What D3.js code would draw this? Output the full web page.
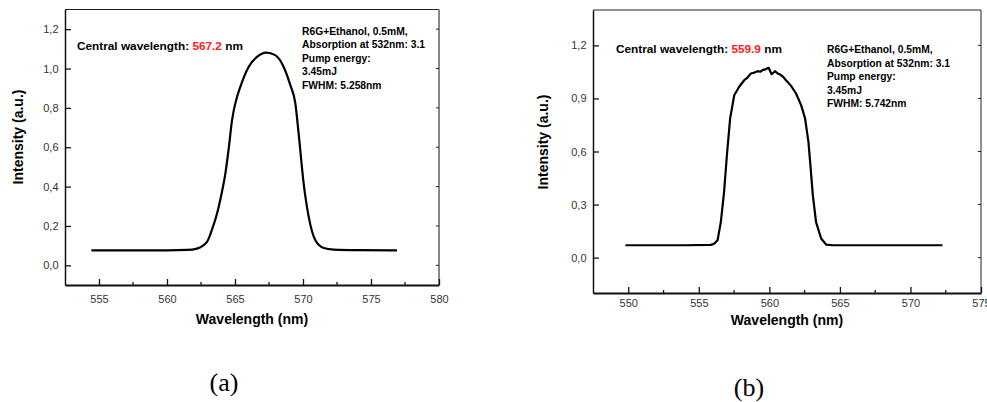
<!DOCTYPE html>
<html>
<head>
<meta charset="utf-8">
<script src="https://cdn.jsdelivr.net/npm/d3@7"></script>
<style>
  body { margin: 0; background: #fff; }
  svg { display: block; font-family: "Liberation Sans", Arial, sans-serif; }
</style>
</head>
<body>
<svg id="chart" width="987" height="402"></svg>
<script>
// panel (a): smooth spectrum
const wavelengthA = [554.44, 556, 558, 560, 561.5, 562.2, 562.94, 563.3, 563.68, 564.0, 564.29, 564.55, 564.78, 565.15, 565.39,
  566.0, 566.62, 567.28, 567.96, 568.58, 569.07, 569.44, 569.68, 570.05, 570.42, 570.91, 571.52, 572.25, 574, 576.91];
const intensityA = [0.076, 0.076, 0.076, 0.076, 0.078, 0.085, 0.119, 0.18, 0.263, 0.36, 0.466, 0.6, 0.737, 0.856, 0.907,
  1.008, 1.059, 1.081, 1.068, 1.008, 0.915, 0.822, 0.669, 0.415, 0.246, 0.127, 0.088, 0.08, 0.077, 0.076];

// panel (b): noisy spectrum
const wavelengthB = [549.8, 552, 554, 555.84, 556.08, 556.33, 556.56, 556.79, 556.99, 557.22, 557.51, 557.86, 558.22, 558.45,
  558.69, 558.95, 559.17, 559.35, 559.52, 559.76, 559.95, 560.16, 560.4, 560.59, 560.82, 561.0, 561.18, 561.54, 561.89,
  562.25, 562.53, 562.77, 562.91, 563.08, 563.31, 563.67, 564.02, 564.5, 567, 572.27];
const intensityB = [0.070, 0.070, 0.070, 0.072, 0.078, 0.098, 0.201, 0.371, 0.579, 0.787, 0.918, 0.966, 1.003, 1.018,
  1.041, 1.046, 1.054, 1.051, 1.06, 1.066, 1.073, 1.037, 1.054, 1.041, 1.032, 1.02, 1.003, 0.971, 0.928,
  0.862, 0.787, 0.654, 0.522, 0.353, 0.201, 0.108, 0.074, 0.070, 0.070, 0.070];

const xTicksA = [555, 560, 565, 570, 575, 580];
const yTicksA = [0, 0.2, 0.4, 0.6, 0.8, 1.0, 1.2];
const xTicksB = [550, 555, 560, 565, 570, 575];
const yTicksB = [0, 0.3, 0.6, 0.9, 1.2];

const notesA = ["R6G+Ethanol, 0.5mM,", "Absorption at 532nm: 3.1", "Pump energy:", "3.45mJ", "FWHM: 5.258nm"];
const notesB = ["R6G+Ethanol, 0.5mM,", "Absorption at 532nm: 3.1", "Pump energy:", "3.45mJ", "FWHM: 5.742nm"];

const svg = d3.select("#chart");
const fmt = d => d.toFixed(1).replace(".", ",");

function drawPanel(opt) {
  const x = d3.scaleLinear().domain(opt.xDomain).range([opt.left, opt.right]);
  const y = d3.scaleLinear().domain(opt.yDomain).range([opt.bottom, opt.top]);
  const g = svg.append("g");

  // frame top / right
  g.append("line").attr("x1", opt.left).attr("x2", opt.right).attr("y1", opt.top).attr("y2", opt.top)
    .attr("stroke", "#222").attr("stroke-width", 1);
  g.append("line").attr("x1", opt.right).attr("x2", opt.right).attr("y1", opt.top).attr("y2", opt.bottom)
    .attr("stroke", opt.rightColor).attr("stroke-width", opt.rightWidth);

  // right side small ticks
  g.selectAll(".rt").data(opt.yTicks).enter().append("line")
    .attr("x1", opt.right - 3).attr("x2", opt.right)
    .attr("y1", d => y(d)).attr("y2", d => y(d))
    .attr("stroke", "#222").attr("stroke-width", 1);

  // x axis, ticks inward
  const minor = opt.xTicks.slice(0, -1).map(d => d + 2.5).concat([opt.xTicks[0] - 2.5]);
  const xAxis = g.append("g").attr("transform", `translate(0,${opt.bottom})`)
    .call(d3.axisBottom(x).tickValues(opt.xTicks).tickSizeInner(-6).tickSizeOuter(0).tickPadding(opt.xPad));
  xAxis.select(".domain").attr("stroke", "#111").attr("stroke-width", 2);
  xAxis.selectAll(".tick line").attr("stroke", "#111").attr("stroke-width", 1.3);
  xAxis.selectAll(".tick text").attr("font-size", 11).attr("fill", "#333")
    .attr("font-family", "'Liberation Sans', Arial, sans-serif");
  g.selectAll(".mx").data(minor.filter(d => x(d) > opt.left)).enter().append("line")
    .attr("x1", d => x(d)).attr("x2", d => x(d))
    .attr("y1", opt.bottom).attr("y2", opt.bottom - 3)
    .attr("stroke", "#111").attr("stroke-width", 1.3);

  // y axis, ticks inward
  const yAxis = g.append("g").attr("transform", `translate(${opt.left},0)`)
    .call(d3.axisLeft(y).tickValues(opt.yTicks).tickFormat(fmt).tickSizeInner(-6).tickSizeOuter(0).tickPadding(6.5));
  yAxis.select(".domain").attr("stroke", "#111").attr("stroke-width", 1.5);
  yAxis.selectAll(".tick line").attr("stroke", "#111").attr("stroke-width", 1.3);
  yAxis.selectAll(".tick text").attr("font-size", 11).attr("fill", "#333")
    .attr("font-family", "'Liberation Sans', Arial, sans-serif");

  // curve
  const pts = opt.xs.map((v, i) => [v, opt.ys[i]]);
  g.append("path").datum(pts)
    .attr("fill", "none").attr("stroke", "#000").attr("stroke-width", 2.2)
    .attr("stroke-linejoin", "round")
    .attr("d", d3.line().x(d => x(d[0])).y(d => y(d[1])).curve(opt.curve));

  // axis titles
  g.append("text")
    .attr("transform", `translate(${opt.yTitleX},${opt.yTitleY}) rotate(-90)`)
    .attr("text-anchor", "middle").attr("font-size", 14).attr("font-weight", "bold")
    .text("Intensity (a.u.)");
  g.append("text")
    .attr("x", opt.xTitleX).attr("y", opt.xTitleY)
    .attr("text-anchor", "middle").attr("font-size", 14).attr("font-weight", "bold")
    .text("Wavelength (nm)");

  // central wavelength
  const cw = g.append("text").attr("x", opt.cwX).attr("y", opt.cwY)
    .attr("font-size", 11.8).attr("font-weight", "bold");
  cw.append("tspan").text("Central wavelength: ");
  cw.append("tspan").attr("fill", "#ff1a1a").text(opt.center);
  cw.append("tspan").text(" nm");

  // notes
  g.selectAll(".note").data(opt.notes).enter().append("text")
    .attr("x", opt.noteX).attr("y", (d, i) => opt.noteY + i * 13.5)
    .attr("font-size", 10.3).attr("font-weight", "bold")
    .text(d => d);

  // panel label
  g.append("text").attr("x", opt.labelX).attr("y", opt.labelY)
    .attr("text-anchor", "middle").attr("font-size", 26)
    .attr("font-family", "'Liberation Serif', 'Times New Roman', serif")
    .text(opt.label);
}

drawPanel({
  xs: wavelengthA, ys: intensityA, xTicks: xTicksA, yTicks: yTicksA,
  xDomain: [552.5, 580], yDomain: [-0.1, 1.3],
  left: 65, right: 439, top: 9.5, bottom: 285, xPad: 10.5,
  rightColor: "#888", rightWidth: 2,
  curve: d3.curveMonotoneX,
  yTitleX: 23, yTitleY: 137, xTitleX: 252, xTitleY: 324,
  cwX: 77, cwY: 50, center: "567.2",
  notes: notesA, noteX: 302, noteY: 34.5,
  label: "(a)", labelX: 224, labelY: 391
});

drawPanel({
  xs: wavelengthB, ys: intensityB, xTicks: xTicksB, yTicks: yTicksB,
  xDomain: [547.5, 575], yDomain: [-0.2, 1.4],
  left: 593, right: 981, top: 10, bottom: 293, xPad: 6.5,
  rightColor: "#222", rightWidth: 1,
  curve: d3.curveLinear,
  yTitleX: 548, yTitleY: 142, xTitleX: 787, xTitleY: 325,
  cwX: 616, cwY: 53, center: "559.9",
  notes: notesB, noteX: 827, noteY: 53,
  label: "(b)", labelX: 749, labelY: 396
});
</script>
</body>
</html>
